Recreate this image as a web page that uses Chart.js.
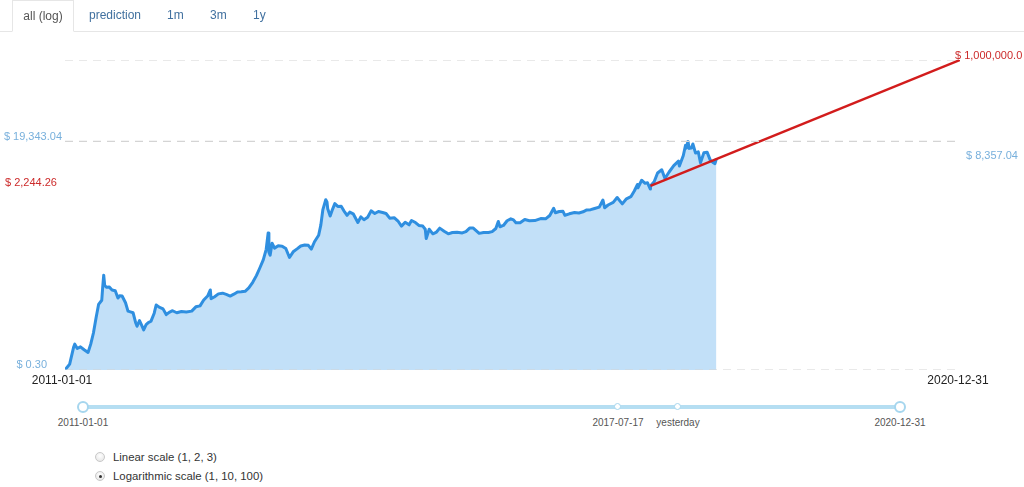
<!DOCTYPE html>
<html>
<head>
<meta charset="utf-8">
<script src="https://cdn.jsdelivr.net/npm/chart.js@4.4.1/dist/chart.umd.min.js"></script>
<style>
  body { margin: 0; background: #fff; font-family: "Liberation Sans", Arial, sans-serif; }
  #wrap { position: relative; width: 1024px; height: 487px; overflow: hidden; }
  #chartBox { position: absolute; left: 0; top: 0; width: 1024px; height: 400px; }
  .tabs { position: absolute; left: 0; top: 0; width: 1024px; height: 31px; border-bottom: 1px solid #e6e6e6; }
  .tab { position: absolute; top: 0; height: 31px; line-height: 31px; font-size: 12px; color: #40709f; }
  .tab.active { left: 12px; width: 62px; height: 32px; box-sizing: border-box; border: 1px solid #e6e6e6; border-bottom: 1px solid #fff; background: #fff; color: #555; text-align: center; }
  .track { position: absolute; left: 83px; top: 405px; width: 817px; height: 4px; background: #b5def2; }
  .knob { position: absolute; box-sizing: border-box; border-radius: 50%; background: #fff; border: 2px solid #a6d6ee; }
  .slabel { position: absolute; top: 417px; font-size: 10px; color: #555; transform: translateX(-50%); white-space: nowrap; }
  .radio { position: absolute; left: 95px; width: 10px; height: 10px; box-sizing: border-box; border-radius: 50%; border: 1px solid #c8c8c8; background: radial-gradient(circle at 50% 35%, #fff, #e2e2e2); }
  .radio.on::after { content: ""; position: absolute; left: 2.5px; top: 2.5px; width: 3px; height: 3px; border-radius: 50%; background: #333; }
  .rlabel { position: absolute; left: 113px; font-size: 11.4px; color: #333; line-height: 14px; white-space: nowrap; }
</style>
</head>
<body>
<div id="wrap">
  <div id="chartBox"><canvas id="btcChart"></canvas></div>

  <div class="tabs">
    <div class="tab active">all (log)</div>
    <div class="tab" style="left:89px">prediction</div>
    <div class="tab" style="left:167px">1m</div>
    <div class="tab" style="left:210px">3m</div>
    <div class="tab" style="left:253px">1y</div>
  </div>

  <div class="track"></div>
  <div class="knob" style="left:77px;top:401px;width:12px;height:12px"></div>
  <div class="knob" style="left:894px;top:401px;width:12px;height:12px"></div>
  <div class="knob" style="left:614px;top:403px;width:7px;height:7px;border-width:1.5px"></div>
  <div class="knob" style="left:674px;top:403px;width:7px;height:7px;border-width:1.5px"></div>
  <div id="sliderLabels"></div>

  <div class="radio" style="top:452px"></div>
  <div class="rlabel" style="top:450px">Linear scale (1, 2, 3)</div>
  <div class="radio on" style="top:471px"></div>
  <div class="rlabel" style="top:469px">Logarithmic scale (1, 10, 100)</div>
</div>

<script>
// === Data ===
const rangeStart = '2011-01-01';
const rangeEnd = '2020-12-31';

const priceDates = [
  '2011-01-01','2011-01-20','2011-02-05','2011-02-10','2011-02-20','2011-03-05','2011-03-20','2011-04-05','2011-04-16','2011-04-27',
  '2011-05-08','2011-05-18','2011-05-31','2011-06-04','2011-06-08','2011-06-12','2011-06-20','2011-06-30','2011-07-12','2011-07-25',
  '2011-08-05','2011-08-12','2011-08-22','2011-09-05','2011-09-15','2011-09-25','2011-10-06','2011-10-16','2011-10-22','2011-11-01',
  '2011-11-10','2011-11-18','2011-11-28','2011-12-08','2011-12-18','2011-12-31',
  '2012-01-08','2012-01-20','2012-02-05','2012-02-18','2012-03-01','2012-03-15','2012-04-01','2012-04-20','2012-05-10','2012-06-01',
  '2012-06-18','2012-07-05','2012-07-20','2012-08-05','2012-08-16','2012-08-19','2012-09-01','2012-09-18','2012-10-05','2012-10-20',
  '2012-11-05','2012-11-20','2012-12-05','2012-12-20',
  '2013-01-05','2013-01-20','2013-02-05','2013-02-20','2013-03-05','2013-03-20','2013-04-01','2013-04-09','2013-04-12','2013-04-17',
  '2013-04-25','2013-05-05','2013-05-20','2013-06-05','2013-06-20','2013-07-05','2013-07-20','2013-08-05','2013-08-20','2013-09-05',
  '2013-09-20','2013-10-02','2013-10-15','2013-11-01','2013-11-10','2013-11-18','2013-11-30','2013-12-05','2013-12-08','2013-12-18',
  '2013-12-28',
  '2014-01-06','2014-01-18','2014-02-01','2014-02-12','2014-02-25','2014-03-08','2014-03-22','2014-04-10','2014-04-22','2014-05-05',
  '2014-05-20','2014-06-03','2014-06-18','2014-07-03','2014-07-20','2014-08-03','2014-08-18','2014-09-05','2014-09-22','2014-10-05',
  '2014-10-20','2014-11-05','2014-11-15','2014-12-01','2014-12-15','2014-12-31',
  '2015-01-10','2015-01-14','2015-01-26','2015-02-10','2015-02-25','2015-03-10','2015-03-28','2015-04-14','2015-05-01','2015-05-20',
  '2015-06-10','2015-06-25','2015-07-10','2015-07-25','2015-08-18','2015-09-05','2015-09-25','2015-10-10','2015-10-25','2015-11-04',
  '2015-11-11','2015-11-25','2015-12-10','2015-12-25',
  '2016-01-05','2016-01-15','2016-02-01','2016-02-20','2016-03-10','2016-04-01','2016-04-25','2016-05-15','2016-06-01','2016-06-17',
  '2016-06-24','2016-07-10','2016-07-25','2016-08-02','2016-08-20','2016-09-10','2016-09-28','2016-10-15','2016-10-30','2016-11-15',
  '2016-12-01','2016-12-20',
  '2017-01-04','2017-01-11','2017-01-25','2017-02-15','2017-03-03','2017-03-24','2017-04-10','2017-04-28','2017-05-12','2017-05-25',
  '2017-05-27','2017-06-11','2017-06-25','2017-07-05','2017-07-16','2017-07-17','2017-08-01','2017-08-15','2017-09-01','2017-09-14',
  '2017-10-01','2017-10-20','2017-11-08','2017-11-12','2017-11-28','2017-12-07','2017-12-10','2017-12-17','2017-12-22','2017-12-31',
  '2018-01-06','2018-01-17','2018-01-28','2018-02-06','2018-02-20','2018-03-05','2018-03-18','2018-03-31','2018-04-06','2018-04-12'
];

const priceUsd = [
  0.30, 0.40, 0.90, 1.05, 0.85, 0.92, 0.80, 0.70, 1.05, 1.80,
  3.80, 7.20, 8.80, 17.0, 29.6, 18.0, 16.5, 16.8, 14.5, 14.0,
  9.8, 11.0, 10.8, 7.8, 5.2, 5.0, 4.8, 3.0, 2.5, 3.3,
  2.6, 2.1, 2.7, 3.0, 3.2, 4.7,
  7.0, 6.3, 5.8, 4.4, 4.9, 5.3, 4.8, 5.1, 5.0, 5.2,
  6.4, 6.7, 8.9, 10.8, 14.5, 9.5, 10.3, 12.0, 12.4, 11.7,
  10.8, 11.8, 13.2, 13.3,
  13.6, 16.0, 21, 29, 41, 62, 104, 230, 90, 78,
  140, 110, 123, 121, 108, 70, 92, 106, 122, 128,
  126, 105, 150, 205, 340, 700, 1150, 1030, 740, 520,
  730,
  950, 830, 840, 670, 540, 630, 580, 380, 500, 435,
  490, 670, 590, 650, 620, 590, 470, 480, 400, 320,
  385, 340, 420, 380, 330, 320,
  275, 175, 275, 220, 240, 290, 250, 220, 235, 237,
  230, 245, 290, 290, 225, 235, 235, 245, 285, 400,
  310, 330, 415, 455,
  432, 375, 375, 440, 415, 418, 460, 455, 535, 760,
  610, 650, 655, 540, 580, 620, 605, 640, 700, 710,
  750, 800,
  1130, 780, 890, 1010, 1280, 940, 1200, 1330, 1750, 2400,
  2050, 2950, 2550, 2600, 1930, 2244, 2750, 4200, 4900, 3200,
  4400, 6000, 7450, 5900, 9800, 16000, 14000, 19343.04, 13800, 14100,
  17100, 11000, 11700, 6900, 11200, 11500, 7800, 6900, 6600, 8357.04
];

const predDates = ['2017-07-17', '2020-12-31'];
const predUsd = [2244.26, 1000000];

const guideUsd = [0.3, 19343.04, 1000000];

const sliderMarks = ['2011-01-01', '2017-07-17', 'yesterday', '2020-12-31'];
const sliderMarkX = [83, 618, 678, 900];

// === Helpers ===
const dayOf = d => (Date.parse(d) - Date.parse(rangeStart)) / 864e5;
const xMax = dayOf(rangeEnd);
const money = (v, dec) => '$ ' + v.toLocaleString('en-US', { minimumFractionDigits: dec, maximumFractionDigits: dec });

const pricePoints = priceDates.map((d, i) => ({ x: dayOf(d), y: priceUsd[i] }));
const predPoints = predDates.map((d, i) => ({ x: dayOf(d), y: predUsd[i] }));

const guideSets = guideUsd.map(v => ({
  data: [{ x: 0, y: v }, { x: xMax, y: v }],
  borderColor: '#d4d4d4',
  borderWidth: 1.2,
  borderDash: [8, 6],
  pointRadius: 0,
  fill: false
}));

// slider labels
const sl = document.getElementById('sliderLabels');
sliderMarks.forEach((t, i) => {
  const el = document.createElement('div');
  el.className = 'slabel';
  el.style.left = sliderMarkX[i] + 'px';
  el.textContent = t;
  sl.appendChild(el);
});

// === Value labels on the chart ===
const labelPlugin = {
  id: 'valueLabels',
  afterDraw(chart) {
    const { ctx, scales: { x, y } } = chart;
    const blue = '#78b0dc', red = '#cc2a2a';
    ctx.save();
    ctx.font = '11px "Liberation Sans", Arial, sans-serif';
    ctx.textBaseline = 'middle';

    // left side
    ctx.textAlign = 'right';
    ctx.fillStyle = blue;
    ctx.fillText(money(guideUsd[1], 2), x.left - 3, y.getPixelForValue(guideUsd[1]) - 4);
    ctx.fillText(money(guideUsd[0], 2), x.left - 18, y.getPixelForValue(guideUsd[0]) - 5);
    ctx.textAlign = 'left';
    ctx.fillStyle = red;
    ctx.fillText(money(predUsd[0], 2), 5, y.getPixelForValue(predUsd[0]) - 3);

    // right side
    ctx.fillText(money(predUsd[1], 1), x.right - 5, y.getPixelForValue(predUsd[1]) - 4);
    ctx.fillStyle = blue;
    const last = priceUsd[priceUsd.length - 1];
    ctx.fillText(money(last, 2), x.right + 6, y.getPixelForValue(last) - 3);

    // range dates
    ctx.font = '12px "Liberation Sans", Arial, sans-serif';
    ctx.fillStyle = '#222';
    ctx.textAlign = 'center';
    ctx.fillText(rangeStart, x.getPixelForValue(0) - 3, y.bottom + 11);
    ctx.fillText(rangeEnd, x.getPixelForValue(xMax) - 2, y.bottom + 11);
    ctx.restore();
  }
};

new Chart(document.getElementById('btcChart'), {
  type: 'line',
  data: {
    datasets: [
      ...guideSets,
      {
        data: predPoints,
        borderColor: '#d21c1c',
        borderWidth: 2.5,
        pointRadius: 0,
        fill: false
      },
      {
        data: pricePoints,
        borderColor: '#2f8fe0',
        backgroundColor: '#c2e0f8',
        borderWidth: 3,
        borderJoinStyle: 'round',
        pointRadius: 0,
        tension: 0,
        fill: 'start'
      }
    ]
  },
  options: {
    responsive: true,
    maintainAspectRatio: false,
    animation: false,
    layout: { padding: { left: 65, right: 64, top: 60, bottom: 30 } },
    scales: {
      x: { type: 'linear', min: 0, max: xMax, bounds: 'data', display: false },
      y: { type: 'logarithmic', min: 0.3, max: 1000000, bounds: 'data', display: false }
    },
    plugins: { legend: { display: false }, tooltip: { enabled: false } }
  },
  plugins: [labelPlugin]
});
</script>
</body>
</html>
